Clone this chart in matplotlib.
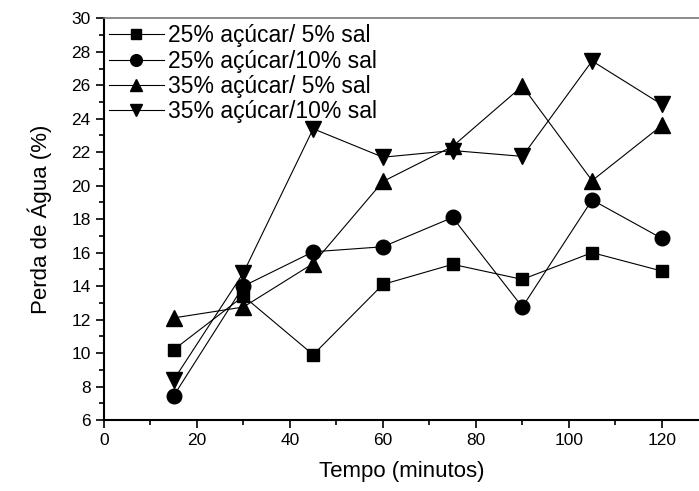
import numpy as np
import matplotlib
matplotlib.use('Agg')
import matplotlib.pyplot as plt
from matplotlib.ticker import MultipleLocator

plt.rcParams['font.family'] = ['Liberation Sans', 'DejaVu Sans']

tempo = [15, 30, 45, 60, 75, 90, 105, 120]
a25_s5 = [10.2, 13.4, 9.9, 14.1, 15.3, 14.4, 16.0, 14.9]
a25_s10 = [7.45, 14.0, 16.05, 16.35, 18.1, 12.75, 19.15, 16.85]
a35_s5 = [12.1, 12.75, 15.35, 20.25, 22.35, 25.95, 20.3, 23.6]
a35_s10 = [8.4, 14.8, 23.4, 21.7, 22.1, 21.75, 27.45, 24.85]
rotulos = ['25% açúcar/ 5% sal', '25% açúcar/10% sal',
           '35% açúcar/ 5% sal', '35% açúcar/10% sal']

my_dpi = 100
fig = plt.figure(figsize=(699/my_dpi, 491/my_dpi), dpi=my_dpi)
ax = fig.add_axes([104/699, 1-420/491, 1-104/699, (420-18.3)/491])

ax.plot(tempo, a25_s5, '-', color='black', lw=0.8, marker='s', ms=9, label=rotulos[0])
ax.plot(tempo, a25_s10, '-', color='black', lw=0.8, marker='o', ms=10.5, label=rotulos[1])
ax.plot(tempo, a35_s5, '-', color='black', lw=0.8, marker='^', ms=11, label=rotulos[2])
ax.plot(tempo, a35_s10, '-', color='black', lw=0.8, marker='v', ms=11, label=rotulos[3])

ax.set_xlim(0, 128)
ax.set_ylim(6, 30)
ax.xaxis.set_major_locator(MultipleLocator(20))
ax.xaxis.set_minor_locator(MultipleLocator(10))
ax.yaxis.set_major_locator(MultipleLocator(2))
ax.yaxis.set_minor_locator(MultipleLocator(1))
ax.tick_params(which='major', direction='out', length=6, width=1.2, labelsize=12.5)
ax.tick_params(which='minor', direction='out', length=3.5, width=1.2)
ax.spines['right'].set_visible(False)
ax.spines['top'].set_color('#777777')
ax.spines['top'].set_linewidth(1.2)
ax.spines['left'].set_linewidth(1.5)
ax.spines['bottom'].set_linewidth(1.5)

ax.set_xlabel('Tempo (minutos)', fontsize=16, labelpad=9)
ax.set_ylabel('Perda de Água (%)', fontsize=16, labelpad=14)

ax.legend(loc='upper left', frameon=False, fontsize=16.5, handlelength=2.4,
          handletextpad=0.2, labelspacing=0.1, borderaxespad=0.0,
          borderpad=0.2, markerscale=0.8, bbox_to_anchor=(0.0, 0.996))

plt.savefig('out.png', dpi=my_dpi)
